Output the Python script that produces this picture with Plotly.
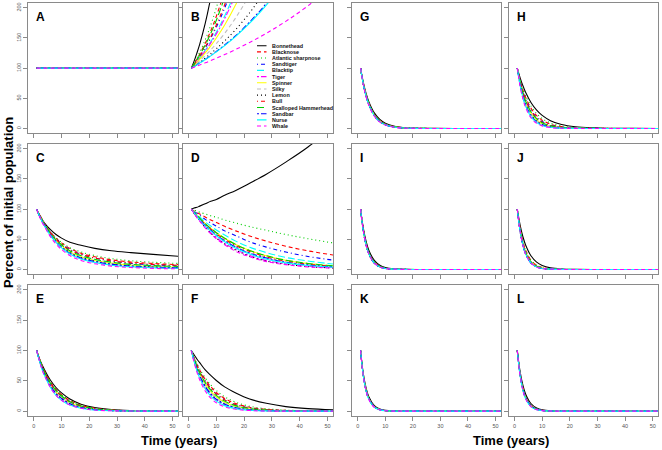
import plotly.graph_objects as go

# ---------------- data ----------------
years = [1, 2, 3, 4, 6, 8, 10, 13, 17, 22, 28, 35, 43, 52]
species = ["Bonnethead", "Blacknose", "Atlantic sharpnose", "Sandtiger", "Blacktip",
           "Tiger", "Spinner", "Silky", "Lemon", "Bull", "Scalloped Hammerhead",
           "Sandbar", "Nurse", "Whale"]
panel_letters = ["A", "B", "C", "D", "E", "F", "G", "H", "I", "J", "K", "L"]
x_tick_values = [0, 10, 20, 30, 40, 50]
y_tick_values = [0, 50, 100, 150, 200]

N = None
panel_A = [[100, 100, 100, 100, 100, 100, 100, 100, 100, 100, 100, 100, 100, 100] for _ in range(14)]

panel_B = [
    [100, 111.7, 124.9, 139.5, 174.2, 217.5, 271.6, 379, N, N, N, N, N, N],
    [100, 107.1, 114.8, 123, 141.2, 162.1, 186, 228.8, 301.7, N, N, N, N, N],
    [100, 108, 116.6, 126, 147, 171.5, 200, 252, 343, N, N, N, N, N],
    [100, 105.9, 112.2, 118.9, 133.4, 149.7, 167.9, 199.6, 251, N, N, N, N, N],
    [100, 105.3, 111, 116.9, 129.7, 143.9, 159.7, 186.6, 229.7, 298, N, N, N, N],
    [100, 105.1, 110.5, 116.2, 128.4, 141.9, 156.8, 182.2, 222.6, 285.8, N, N, N, N],
    [100, 104.6, 109.4, 114.4, 125.2, 137, 149.9, 171.6, 205.4, 257.3, N, N, N, N],
    [100, 103.9, 107.9, 112.1, 120.9, 130.5, 140.8, 157.7, 183.7, 222.2, 279, N, N, N],
    [100, 103.1, 106.4, 109.7, 116.8, 124.2, 132.2, 145.1, 164.2, 191.8, 231, N, N, N],
    [100, 106.2, 112.7, 119.7, 135, 152.2, 171.6, 205.4, 261.2, N, N, N, N, N],
    [100, 106.7, 113.9, 121.5, 138.4, 157.7, 179.4, 218.1, 282.9, N, N, N, N, N],
    [100, 102.7, 105.5, 108.4, 114.4, 120.8, 127.5, 138.3, 154, 176.4, 207.3, 250.6, N, N],
    [100, 102.7, 105.4, 108.3, 114.2, 120.4, 126.9, 137.4, 152.7, 174.5, 204.5, 246.3, N, N],
    [100, 101.7, 103.4, 105.2, 108.8, 112.6, 116.4, 122.5, 131.1, 142.6, 157.8, 177.6, 203.4, 237],
]

panel_C = [
    [100, 91, 83, 76, 66, 58, 52, 45, 40, 35, 31, 28, 25, 22],
    [100, 91, 83, 75, 62, 52, 44, 35, 27, 21, 16, 12.5, 10, 8],
    [100, 91, 83, 76, 63, 53, 45, 36, 29, 23, 18, 14.5, 12, 10],
    [100, 90, 82, 75, 61, 51, 42, 33, 25, 19, 14, 10, 7.8, 6],
    [100, 90, 81, 73, 59, 48, 40, 30, 22, 16, 11, 7.5, 5.5, 4],
    [100, 89, 79, 71, 56, 45, 36, 26, 18, 12, 7.5, 4.6, 3, 2],
    [100, 90, 81, 73, 59, 48, 39, 29, 21, 15, 10.5, 7, 5, 4],
    [100, 89, 80, 72, 58, 47, 38, 28, 20, 14, 9.5, 6, 4.2, 3],
    [100, 89, 80, 72, 58, 46, 38, 28, 20, 14, 9, 6, 4, 3],
    [100, 90, 82, 74, 61, 50, 42, 32, 25, 19, 14, 11, 8.5, 7],
    [100, 90, 81, 74, 60, 49, 41, 31, 23, 17, 12, 8.5, 6.5, 5],
    [100, 89, 80, 72, 57, 46, 37, 27, 19, 13, 8.5, 5.5, 3.8, 2.6],
    [100, 89, 79, 71, 56, 45, 36, 25.5, 17.5, 11.5, 7, 4.4, 2.9, 2],
    [100, 88, 78, 70, 54, 42, 33, 23, 15, 9.5, 5.5, 3.2, 1.8, 1],
]

panel_D = [
    [100, 102, 103, 105, 109, 113, 116, 123, 131, 143, 158, 178, 203, 237],
    [100, 97, 94.5, 92, 87, 82, 78, 71.5, 64, 55.5, 47, 38.6, 30.8, 24],
    [100, 98, 97, 95, 92, 89, 86.5, 82, 77, 71, 65, 58, 51, 44],
    [100, 96, 93, 90, 83, 77, 72, 64, 56, 46, 37, 29, 21.5, 15.5],
    [100, 95, 91, 87, 79, 72, 65.5, 57, 47, 37, 28, 20, 14, 9],
    [100, 93, 87, 81, 70.5, 61, 53, 43, 33, 23, 15, 9.3, 5.3, 2.8],
    [100, 95, 90, 85, 76, 68, 61, 51.7, 41.5, 31.5, 22.7, 15.4, 9.9, 6],
    [100, 94, 89, 83.5, 74, 66, 58, 49, 38, 28, 20, 13, 8, 4.7],
    [100, 93, 87, 81, 70, 60, 52, 42, 32, 22, 14, 8.6, 4.9, 2.5],
    [100, 94, 89, 84, 75, 67, 59, 50, 39.5, 30, 21, 14, 8.8, 5.2],
    [100, 95, 90, 85, 76, 68, 61, 52, 41.5, 31.5, 22.7, 15.4, 10, 6],
    [100, 94, 88, 83, 73, 65, 57, 47.5, 37, 27, 19, 12, 7.4, 4.2],
    [100, 94, 88, 82, 72, 63.5, 56, 46, 35, 25.5, 17, 11, 6.5, 3.6],
    [100, 93, 86, 80, 69, 59, 51, 41, 30, 21, 13, 8, 4.3, 2.2],
]

panel_E = [
    [100, 87, 76, 67, 51, 39, 30, 20, 11.5, 5.9, 2.6, 1.0, 0.35, 0.1],
    [100, 86.5, 75, 65, 48, 36, 27, 17.6, 9.8, 4.8, 2, 0.7, 0.2, 0.1],
    [100, 86.5, 75, 65, 48.4, 36.2, 27.1, 17.6, 9.8, 4.8, 2, 0.7, 0.2, 0.1],
    [100, 85.6, 73, 63, 46, 34, 25, 15.6, 8.4, 3.9, 1.5, 0.5, 0.15, 0],
    [100, 85, 72, 61, 44, 31.5, 22.6, 13.8, 7.1, 3.1, 1.2, 0.4, 0.1, 0],
    [100, 84, 70.5, 59, 42, 29, 21, 12, 6.1, 2.5, 0.9, 0.3, 0.1, 0],
    [100, 85, 72, 61, 44, 31.5, 22.6, 13.8, 7.1, 3.1, 1.2, 0.4, 0.1, 0],
    [100, 85, 72, 61, 44, 31.5, 22.6, 13.8, 7.1, 3.1, 1.2, 0.4, 0.1, 0],
    [100, 84, 70.5, 59, 42, 29, 21, 12, 6.1, 2.5, 0.9, 0.3, 0.1, 0],
    [100, 85.6, 73, 63, 46, 34, 25, 15.6, 8.4, 3.9, 1.5, 0.5, 0.15, 0],
    [100, 85.6, 73, 63, 46, 34, 25, 15.6, 8.4, 3.9, 1.5, 0.5, 0.15, 0],
    [100, 84, 70.5, 59, 42, 29, 21, 12, 6.1, 2.5, 0.9, 0.3, 0.1, 0],
    [100, 83, 68, 57, 39, 26, 18, 10, 4.8, 1.8, 0.6, 0.2, 0, 0],
    [100, 83, 68, 57, 39, 26, 18, 10, 4.8, 1.8, 0.6, 0.2, 0, 0],
]

panel_F = [
    [100, 93, 86, 80, 68, 59, 50.5, 40, 30, 20, 13, 7.5, 4.1, 2.1],
    [100, 87.8, 77.1, 67.7, 52.2, 40.3, 31, 21, 12.5, 6.5, 3, 1.2, 0.4, 0.1],
    [100, 88.7, 78.7, 69.8, 54.9, 43.2, 34, 23.7, 14.7, 8, 3.9, 1.7, 0.65, 0.2],
    [100, 86.9, 75.6, 65.7, 49.7, 37.5, 28.4, 18.6, 10.6, 5.3, 2.3, 0.9, 0.3, 0.1],
    [100, 85.2, 72.6, 61.9, 44.9, 32.6, 23.7, 14.7, 7.7, 3.5, 1.3, 0.4, 0.1, 0],
    [100, 82.7, 68.4, 56.6, 38.7, 26.4, 18.1, 10.2, 4.8, 1.8, 0.6, 0.2, 0, 0],
    [100, 85.2, 72.6, 61.9, 44.9, 32.6, 23.7, 14.7, 7.7, 3.5, 1.3, 0.4, 0.1, 0],
    [100, 84.4, 71.2, 60, 42.7, 30.4, 21.7, 13, 6.6, 2.8, 1, 0.3, 0.1, 0],
    [100, 83.5, 69.8, 58.3, 40.7, 28.4, 19.8, 11.5, 5.6, 2.3, 0.8, 0.2, 0, 0],
    [100, 86.9, 75.6, 65.7, 49.7, 37.5, 28.4, 18.6, 10.6, 5.3, 2.3, 0.9, 0.3, 0.1],
    [100, 86.1, 74.1, 63.8, 47.2, 35, 25.9, 16.5, 9.1, 4.3, 1.7, 0.6, 0.2, 0],
    [100, 83.5, 69.8, 58.3, 40.7, 28.4, 19.8, 11.5, 5.6, 2.3, 0.8, 0.2, 0, 0],
    [100, 81.9, 67, 54.9, 36.8, 24.7, 16.5, 9.1, 4.1, 1.5, 0.45, 0.1, 0, 0],
    [100, 80.3, 64.4, 51.7, 33.3, 21.4, 13.8, 7.1, 3, 1, 0.3, 0, 0, 0],
]

panel_G = [
    [100, 76.3, 58.3, 44.5, 25.9, 15.1, 8.8, 3.9, 1.3, 0.3, 0.1, 0, 0, 0],
    [100, 74.8, 56, 41.9, 23.5, 13.1, 7.4, 3.1, 1, 0.2, 0, 0, 0, 0],
    [100, 74.8, 56, 41.9, 23.5, 13.1, 7.4, 3.1, 1, 0.2, 0, 0, 0, 0],
    [100, 74.1, 54.9, 40.7, 22.3, 12.2, 6.7, 2.7, 0.8, 0.2, 0, 0, 0, 0],
    [100, 74.1, 54.9, 40.7, 22.3, 12.2, 6.7, 2.7, 0.8, 0.2, 0, 0, 0, 0],
    [100, 73.3, 53.8, 39.5, 21.2, 11.4, 6.1, 2.4, 0.7, 0.1, 0, 0, 0, 0],
    [100, 74.1, 54.9, 40.7, 22.3, 12.2, 6.7, 2.7, 0.8, 0.2, 0, 0, 0, 0],
    [100, 73.3, 53.8, 39.5, 21.2, 11.4, 6.1, 2.4, 0.7, 0.1, 0, 0, 0, 0],
    [100, 73.3, 53.8, 39.5, 21.2, 11.4, 6.1, 2.4, 0.7, 0.1, 0, 0, 0, 0],
    [100, 74.1, 54.9, 40.7, 22.3, 12.2, 6.7, 2.7, 0.8, 0.2, 0, 0, 0, 0],
    [100, 74.1, 54.9, 40.7, 22.3, 12.2, 6.7, 2.7, 0.8, 0.2, 0, 0, 0, 0],
    [100, 73.3, 53.8, 39.5, 21.2, 11.4, 6.1, 2.4, 0.7, 0.1, 0, 0, 0, 0],
    [100, 73.3, 53.8, 39.5, 21.2, 11.4, 6.1, 2.4, 0.7, 0.1, 0, 0, 0, 0],
    [100, 72.6, 52.7, 38.3, 20.2, 10.6, 5.6, 2.2, 0.6, 0.1, 0, 0, 0, 0],
]

panel_H = [
    [100, 84.4, 71.2, 60, 42.7, 30.4, 21.7, 13, 6.6, 2.8, 1, 0.3, 0.1, 0],
    [100, 80.3, 64.4, 51.7, 33.3, 21.4, 13.8, 7.1, 3, 1, 0.3, 0, 0, 0],
    [100, 81.9, 67, 54.9, 36.8, 24.7, 16.5, 9.1, 4.1, 1.5, 0.45, 0.1, 0, 0],
    [100, 78.7, 61.9, 48.7, 30.1, 18.6, 11.5, 5.6, 2.2, 0.6, 0.2, 0, 0, 0],
    [100, 76.3, 58.3, 44.5, 25.9, 15.1, 8.8, 3.9, 1.3, 0.3, 0.1, 0, 0, 0],
    [100, 72.6, 52.7, 38.3, 20.2, 10.6, 5.6, 2.2, 0.6, 0.1, 0, 0, 0, 0],
    [100, 75.6, 57.1, 43.2, 24.7, 14.1, 8, 3.5, 1.1, 0.3, 0, 0, 0, 0],
    [100, 74.8, 56, 41.9, 23.5, 13.1, 7.4, 3.1, 1, 0.2, 0, 0, 0, 0],
    [100, 74.1, 54.9, 40.7, 22.3, 12.2, 6.7, 2.7, 0.8, 0.2, 0, 0, 0, 0],
    [100, 77.9, 60.7, 47.2, 28.7, 17.4, 10.5, 5, 1.8, 0.5, 0.1, 0, 0, 0],
    [100, 77.1, 59.5, 45.8, 27.3, 16.2, 9.6, 4.4, 1.6, 0.4, 0.1, 0, 0, 0],
    [100, 73.3, 53.8, 39.5, 21.2, 11.4, 6.1, 2.4, 0.7, 0.1, 0, 0, 0, 0],
    [100, 71.9, 51.7, 37.2, 19.2, 9.9, 5.1, 1.9, 0.5, 0.1, 0, 0, 0, 0],
    [100, 70.5, 49.7, 35, 17.4, 8.6, 4.3, 1.5, 0.4, 0.1, 0, 0, 0, 0],
]

panel_I = [
    [100, 68.4, 46.8, 32, 15, 7, 3.3, 1, 0.2, 0, 0, 0, 0, 0],
    [100, 65.7, 43.2, 28.4, 12.2, 5.3, 2.3, 0.6, 0.1, 0, 0, 0, 0, 0],
    [100, 65.7, 43.2, 28.4, 12.2, 5.3, 2.3, 0.6, 0.1, 0, 0, 0, 0, 0],
    [100, 65.7, 43.2, 28.4, 12.2, 5.3, 2.3, 0.6, 0.1, 0, 0, 0, 0, 0],
    [100, 63.8, 40.7, 25.9, 10.5, 4.3, 1.7, 0.5, 0.1, 0, 0, 0, 0, 0],
    [100, 63.8, 40.7, 25.9, 10.5, 4.3, 1.7, 0.5, 0.1, 0, 0, 0, 0, 0],
    [100, 63.8, 40.7, 25.9, 10.5, 4.3, 1.7, 0.5, 0.1, 0, 0, 0, 0, 0],
    [100, 63.8, 40.7, 25.9, 10.5, 4.3, 1.7, 0.5, 0.1, 0, 0, 0, 0, 0],
    [100, 63.8, 40.7, 25.9, 10.5, 4.3, 1.7, 0.5, 0.1, 0, 0, 0, 0, 0],
    [100, 65.7, 43.2, 28.4, 12.2, 5.3, 2.3, 0.6, 0.1, 0, 0, 0, 0, 0],
    [100, 65.7, 43.2, 28.4, 12.2, 5.3, 2.3, 0.6, 0.1, 0, 0, 0, 0, 0],
    [100, 63.8, 40.7, 25.9, 10.5, 4.3, 1.7, 0.5, 0.1, 0, 0, 0, 0, 0],
    [100, 63.8, 40.7, 25.9, 10.5, 4.3, 1.7, 0.5, 0.1, 0, 0, 0, 0, 0],
    [100, 63.8, 40.7, 25.9, 10.5, 4.3, 1.7, 0.5, 0.1, 0, 0, 0, 0, 0],
]

panel_J = [
    [100, 74.1, 54.9, 40.7, 22.3, 12.2, 6.7, 2.7, 0.8, 0.2, 0, 0, 0, 0],
    [100, 68.4, 46.8, 32, 15, 7, 3.3, 1, 0.2, 0, 0, 0, 0, 0],
    [100, 68.4, 46.8, 32, 15, 7, 3.3, 1, 0.2, 0, 0, 0, 0, 0],
    [100, 65.7, 43.2, 28.4, 12.2, 5.3, 2.3, 0.6, 0.1, 0, 0, 0, 0, 0],
    [100, 65.7, 43.2, 28.4, 12.2, 5.3, 2.3, 0.6, 0.1, 0, 0, 0, 0, 0],
    [100, 63.8, 40.7, 25.9, 10.5, 4.3, 1.7, 0.5, 0.1, 0, 0, 0, 0, 0],
    [100, 65.7, 43.2, 28.4, 12.2, 5.3, 2.3, 0.6, 0.1, 0, 0, 0, 0, 0],
    [100, 63.8, 40.7, 25.9, 10.5, 4.3, 1.7, 0.5, 0.1, 0, 0, 0, 0, 0],
    [100, 63.8, 40.7, 25.9, 10.5, 4.3, 1.7, 0.5, 0.1, 0, 0, 0, 0, 0],
    [100, 65.7, 43.2, 28.4, 12.2, 5.3, 2.3, 0.6, 0.1, 0, 0, 0, 0, 0],
    [100, 65.7, 43.2, 28.4, 12.2, 5.3, 2.3, 0.6, 0.1, 0, 0, 0, 0, 0],
    [100, 63.8, 40.7, 25.9, 10.5, 4.3, 1.7, 0.5, 0.1, 0, 0, 0, 0, 0],
    [100, 63.8, 40.7, 25.9, 10.5, 4.3, 1.7, 0.5, 0.1, 0, 0, 0, 0, 0],
    [100, 63.8, 40.7, 25.9, 10.5, 4.3, 1.7, 0.5, 0.1, 0, 0, 0, 0, 0],
]

panel_K = [
    [100, 61.9, 38.3, 23.7, 9.1, 3.5, 1.3, 0.3, 0, 0, 0, 0, 0, 0],
    [100, 58.9, 34.7, 20.4, 7.1, 2.5, 0.9, 0.2, 0, 0, 0, 0, 0, 0],
    [100, 58.9, 34.7, 20.4, 7.1, 2.5, 0.9, 0.2, 0, 0, 0, 0, 0, 0],
    [100, 58.9, 34.7, 20.4, 7.1, 2.5, 0.9, 0.2, 0, 0, 0, 0, 0, 0],
    [100, 58.9, 34.7, 20.4, 7.1, 2.5, 0.9, 0.2, 0, 0, 0, 0, 0, 0],
    [100, 58.9, 34.7, 20.4, 7.1, 2.5, 0.9, 0.2, 0, 0, 0, 0, 0, 0],
    [100, 58.9, 34.7, 20.4, 7.1, 2.5, 0.9, 0.2, 0, 0, 0, 0, 0, 0],
    [100, 58.9, 34.7, 20.4, 7.1, 2.5, 0.9, 0.2, 0, 0, 0, 0, 0, 0],
    [100, 58.9, 34.7, 20.4, 7.1, 2.5, 0.9, 0.2, 0, 0, 0, 0, 0, 0],
    [100, 58.9, 34.7, 20.4, 7.1, 2.5, 0.9, 0.2, 0, 0, 0, 0, 0, 0],
    [100, 58.9, 34.7, 20.4, 7.1, 2.5, 0.9, 0.2, 0, 0, 0, 0, 0, 0],
    [100, 58.9, 34.7, 20.4, 7.1, 2.5, 0.9, 0.2, 0, 0, 0, 0, 0, 0],
    [100, 57.7, 33.3, 19.2, 6.4, 2.1, 0.7, 0.1, 0, 0, 0, 0, 0, 0],
    [100, 57.7, 33.3, 19.2, 6.4, 2.1, 0.7, 0.1, 0, 0, 0, 0, 0, 0],
]

panel_L = [
    [100, 65.7, 43.2, 28.4, 12.2, 5.3, 2.3, 0.6, 0.1, 0, 0, 0, 0, 0],
    [100, 61.9, 38.3, 23.7, 9.1, 3.5, 1.3, 0.3, 0, 0, 0, 0, 0, 0],
    [100, 61.9, 38.3, 23.7, 9.1, 3.5, 1.3, 0.3, 0, 0, 0, 0, 0, 0],
    [100, 60.7, 36.8, 22.3, 8.2, 3, 1.1, 0.2, 0, 0, 0, 0, 0, 0],
    [100, 60.7, 36.8, 22.3, 8.2, 3, 1.1, 0.2, 0, 0, 0, 0, 0, 0],
    [100, 60.7, 36.8, 22.3, 8.2, 3, 1.1, 0.2, 0, 0, 0, 0, 0, 0],
    [100, 60.7, 36.8, 22.3, 8.2, 3, 1.1, 0.2, 0, 0, 0, 0, 0, 0],
    [100, 60.7, 36.8, 22.3, 8.2, 3, 1.1, 0.2, 0, 0, 0, 0, 0, 0],
    [100, 60.7, 36.8, 22.3, 8.2, 3, 1.1, 0.2, 0, 0, 0, 0, 0, 0],
    [100, 60.7, 36.8, 22.3, 8.2, 3, 1.1, 0.2, 0, 0, 0, 0, 0, 0],
    [100, 60.7, 36.8, 22.3, 8.2, 3, 1.1, 0.2, 0, 0, 0, 0, 0, 0],
    [100, 60.7, 36.8, 22.3, 8.2, 3, 1.1, 0.2, 0, 0, 0, 0, 0, 0],
    [100, 58.9, 34.7, 20.4, 7.1, 2.5, 0.9, 0.2, 0, 0, 0, 0, 0, 0],
    [100, 58.9, 34.7, 20.4, 7.1, 2.5, 0.9, 0.2, 0, 0, 0, 0, 0, 0],
]

panels = [panel_A, panel_B, panel_C, panel_D, panel_E, panel_F,
          panel_G, panel_H, panel_I, panel_J, panel_K, panel_L]

# ---------------- styles ----------------
colors = ["#000000", "#FF0000", "#00CD00", "#0000FF", "#00FFFF", "#FF00FF", "#FFFF00",
          "#BEBEBE", "#000000", "#FF0000", "#00CD00", "#0000FF", "#00FFFF", "#FF00FF"]
DASHED = "4px,3px"
DOTTED = "1px,3px"
DOTDASH = "1px,3px,4px,3px"
LONGDASH = "7px,3px"
TWODASH = "2px,2px,6px,2px"
dashes = ["solid", DASHED, DOTTED, DOTDASH, LONGDASH, TWODASH, "solid",
          DASHED, DOTTED, DOTDASH, LONGDASH, TWODASH, "solid", DASHED]
LW = 1.1

W, H = 662, 450
FONT = "Liberation Sans, Arial, Helvetica, sans-serif"
GREY = "#8a8a8a"
col_px = [(28.3, 178.0), (183.0, 333.0), (352.3, 501.0), (509.0, 658.3)]
row_px = [(3.0, 133.3), (144.0, 274.3), (285.0, 416.0)]
grid_pos = [(0, 0), (1, 0), (0, 1), (1, 1), (0, 2), (1, 2),
            (2, 0), (3, 0), (2, 1), (3, 1), (2, 2), (3, 2)]

fig = go.Figure()
layout_axes = {}
annotations = []

for k, (c, r) in enumerate(grid_pos):
    n = k + 1
    sfx = "" if n == 1 else str(n)
    x0, x1 = col_px[c]
    y0, y1 = row_px[r]
    layout_axes["xaxis" + sfx] = dict(
        domain=[x0 / W, x1 / W], range=[-2, 52], anchor="y" + sfx,
        tickvals=x_tick_values, showticklabels=(r == 2), ticks="outside", ticklen=4,
        tickcolor=GREY, tickwidth=1, showline=True, linecolor=GREY, linewidth=1,
        mirror=True, showgrid=False, zeroline=False,
        tickfont=dict(size=5.5, color="#555555", family=FONT))
    layout_axes["yaxis" + sfx] = dict(
        domain=[1 - y1 / H, 1 - y0 / H], range=[-8, 208], anchor="x" + sfx,
        tickvals=y_tick_values, showticklabels=(c == 0), tickangle=-90, ticks="outside",
        ticklen=4, tickcolor=GREY, tickwidth=1, showline=True, linecolor=GREY,
        linewidth=1, mirror=True, showgrid=False, zeroline=False,
        tickfont=dict(size=5.5, color="#555555", family=FONT))
    for i, sp in enumerate(species):
        fig.add_trace(go.Scatter(
            x=years, y=panels[k][i], mode="lines", name=sp,
            line=dict(color=colors[i], dash=dashes[i], width=LW, shape="spline", smoothing=1),
            xaxis="x" + sfx, yaxis="y" + sfx, showlegend=False, hoverinfo="skip"))
    annotations.append(dict(
        text="<b>%s</b>" % panel_letters[k], xref="paper", yref="paper",
        x=(x0 + 5.5) / W, y=1 - (y0 + 4.5) / H, xanchor="left", yanchor="top",
        showarrow=False, font=dict(size=12, color="black", family=FONT)))

# legend drawn inside panel B on an overlaid axis pair measured in pixels
lx0, lx1 = col_px[1]
ly0, ly1 = row_px[0]
layout_axes["xaxis13"] = dict(overlaying="x2", range=[lx0, lx1], anchor="y13",
                              visible=False, fixedrange=True)
layout_axes["yaxis13"] = dict(overlaying="y2", range=[ly1, ly0], anchor="x13",
                              visible=False, fixedrange=True)
LEG_TOP, LEG_STEP = 45.7, 6.18
for i, sp in enumerate(species):
    yy = LEG_TOP + LEG_STEP * i
    fig.add_trace(go.Scatter(
        x=[257.0, 266.5], y=[yy, yy], mode="lines",
        line=dict(color=colors[i], dash=dashes[i], width=LW),
        xaxis="x13", yaxis="y13", showlegend=False, hoverinfo="skip"))
    annotations.append(dict(
        text="<b>%s</b>" % sp, xref="x13", yref="y13", x=269.8, y=yy,
        xanchor="left", yanchor="middle", showarrow=False,
        font=dict(size=5.4, color="#111111", family=FONT)))

annotations.append(dict(
    text="<b>Percent of initial population</b>", xref="paper", yref="paper",
    x=8.5 / W, y=1 - 202.5 / H, xanchor="center", yanchor="middle", textangle=-90,
    showarrow=False, font=dict(size=13, color="black", family=FONT)))
for cx in (179.0, 510.5):
    annotations.append(dict(
        text="<b>Time (years)</b>", xref="paper", yref="paper",
        x=cx / W, y=1 - 440 / H, xanchor="center", yanchor="middle",
        showarrow=False, font=dict(size=13, color="black", family=FONT)))

fig.update_layout(
    width=W, height=H, margin=dict(l=0, r=0, t=0, b=0),
    paper_bgcolor="white", plot_bgcolor="rgba(0,0,0,0)", showlegend=False,
    annotations=annotations, **layout_axes)

fig.write_html("out.html", config={"displayModeBar": False},
               post_script="document.body.style.margin='0px';")
